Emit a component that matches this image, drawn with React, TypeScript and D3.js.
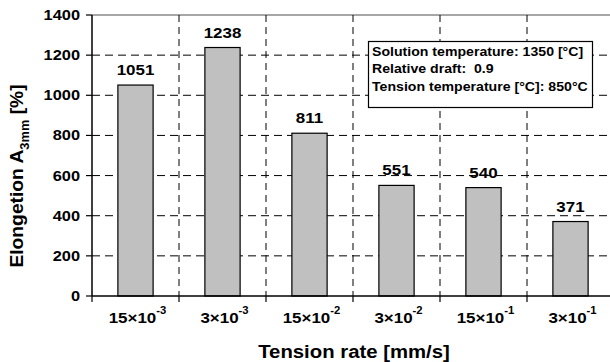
import * as d3 from 'd3';

// tension rate categories (mantissa × 10^exponent)
const rateKeys = ['15e-3', '3e-3', '15e-2', '3e-2', '15e-1', '3e-1'];
const rateMantissa = ['15', '3', '15', '3', '15', '3'];
const rateExponent = ['-3', '-3', '-2', '-2', '-1', '-1'];

// elongation A3mm [%]
const elongation = [1051, 1238, 811, 551, 540, 371];

const yTicks = [0, 200, 400, 600, 800, 1000, 1200, 1400];

const legendLines = [
    'Solution temperature: 1350 [°C]',
    'Relative draft:  0.9',
    'Tension temperature [°C]: 850°C',
];

const W = 610;
const H = 362;
const FONT = 'Arial, "Liberation Sans", sans-serif';
const SX = 1.13; // the source font renders a bit wide

const margin = { top: 15, left: 92, bottom: 296, right: 614 };

export default function App() {
    const x = d3.scaleBand<string>().domain(rateKeys).range([margin.left, margin.right]);
    const y = d3.scaleLinear().domain([0, 1400]).range([margin.bottom, margin.top]);
    const step = x.step();
    const barW = step * 0.405;
    const boundaries = d3.range(rateKeys.length + 1).map((i) => margin.left + i * step);

    return (
        <svg
            width={W}
            height={H}
            style={{ position: 'absolute', left: 0, top: 0, background: '#fff' }}
            fontFamily={FONT}
            fontWeight="bold"
        >
            <rect x={0} y={0} width={W} height={H} fill="#fff" />

            {/* horizontal grid */}
            {yTicks
                .filter((t) => t > 0 && t < 1400)
                .map((t) => (
                    <line
                        key={`hg${t}`}
                        x1={margin.left}
                        x2={W}
                        y1={y(t)}
                        y2={y(t)}
                        stroke="#000"
                        strokeWidth={1}
                        strokeDasharray="8,5"
                    />
                ))}
            <line x1={margin.left} x2={W} y1={y(1400)} y2={y(1400)} stroke="#888" strokeWidth={1.5} />

            {/* vertical grid */}
            {boundaries.slice(1).map((bx, i) => (
                <line
                    key={`vg${i}`}
                    x1={bx}
                    x2={bx}
                    y1={margin.top}
                    y2={margin.bottom}
                    stroke="#000"
                    strokeWidth={1}
                    strokeDasharray="7,5"
                />
            ))}

            {/* bars */}
            {rateKeys.map((k, i) => {
                const bx = (x(k) ?? 0) + (step - barW) / 2;
                return (
                    <g key={k}>
                        <rect
                            x={bx}
                            y={y(elongation[i])}
                            width={barW}
                            height={y(0) - y(elongation[i])}
                            fill="#c0c0c0"
                            stroke="#000"
                            strokeWidth={1.2}
                        />
                        <text
                            transform={`translate(${bx + barW / 2},${y(elongation[i]) - 10}) scale(${SX},1)`}
                            textAnchor="middle"
                            fontSize={15}
                        >
                            {elongation[i]}
                        </text>
                    </g>
                );
            })}

            {/* axes */}
            <line x1={margin.left} x2={margin.left} y1={margin.top} y2={margin.bottom} stroke="#000" strokeWidth={1.5} />
            <line x1={margin.left} x2={W} y1={margin.bottom} y2={margin.bottom} stroke="#000" strokeWidth={1.5} />
            {yTicks.map((t) => (
                <g key={`yt${t}`}>
                    <line x1={margin.left - 6} x2={margin.left} y1={y(t)} y2={y(t)} stroke="#000" strokeWidth={1.2} />
                    <text
                        transform={`translate(${margin.left - 12},${y(t) + 5}) scale(${SX},1)`}
                        textAnchor="end"
                        fontSize={14.5}
                    >
                        {t}
                    </text>
                </g>
            ))}
            {boundaries.slice(0, -1).map((bx, i) => (
                <line
                    key={`xt${i}`}
                    x1={bx}
                    x2={bx}
                    y1={margin.bottom}
                    y2={margin.bottom + 6}
                    stroke="#000"
                    strokeWidth={1.2}
                />
            ))}
            {rateKeys.map((k, i) => (
                <text
                    key={`xl${k}`}
                    transform={`translate(${(x(k) ?? 0) + step / 2 + 2},${margin.bottom + 27}) scale(${SX},1)`}
                    textAnchor="middle"
                    fontSize={15}
                >
                    {rateMantissa[i]}×10
                    <tspan fontSize={10} dy={-9}>
                        {rateExponent[i]}
                    </tspan>
                </text>
            ))}

            {/* axis titles */}
            <text transform={`translate(354,358) scale(${SX},1)`} textAnchor="middle" fontSize={18}>
                Tension rate [mm/s]
            </text>
            <text transform={`translate(23,176) rotate(-90) scale(1.07,1)`} textAnchor="middle" fontSize={18}>
                Elongetion A
                <tspan fontSize={12} dy={6}>
                    3mm
                </tspan>
                <tspan dy={-6}> [%]</tspan>
            </text>

            {/* legend box */}
            <rect x={368.5} y={41.5} width={224} height={66} fill="#fff" stroke="#000" strokeWidth={1.2} />
            {legendLines.map((l, i) => (
                <text
                    key={`lg${i}`}
                    transform={`translate(372,${[56, 73, 91][i]}) scale(${SX},1)`}
                    fontSize={12.5}
                    xmlSpace="preserve"
                    style={{ whiteSpace: 'pre' }}
                >
                    {l}
                </text>
            ))}
        </svg>
    );
}
